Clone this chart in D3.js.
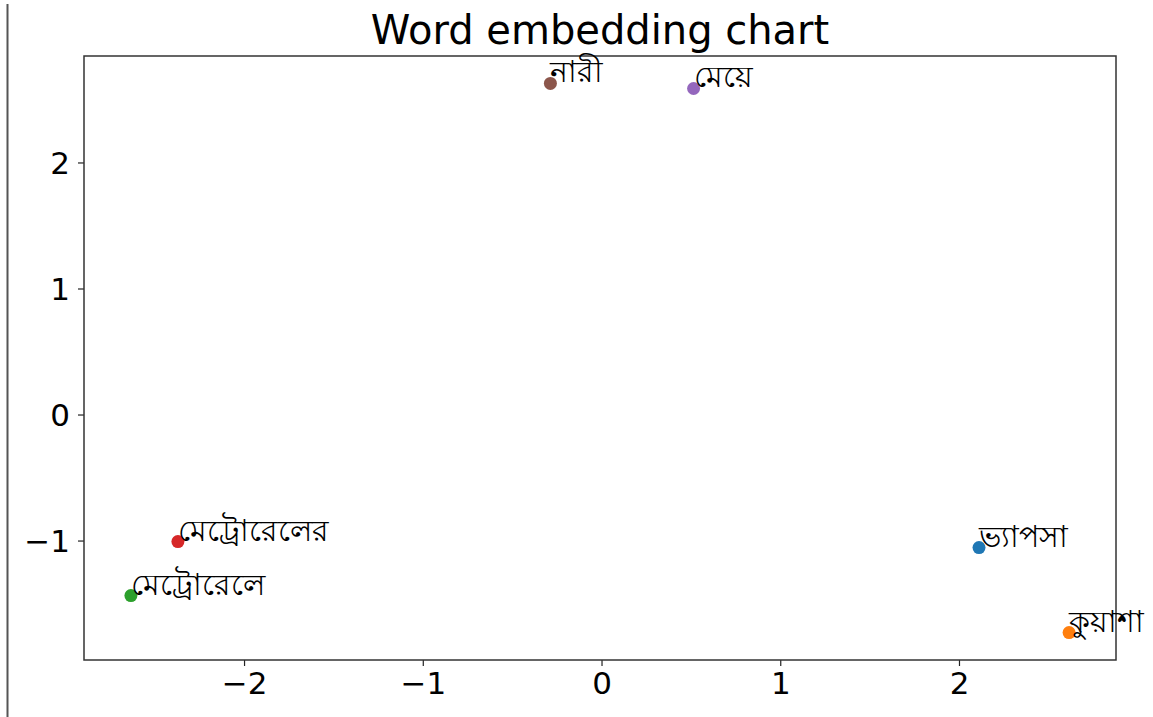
<!DOCTYPE html>
<html>
<head>
<meta charset="utf-8">
<script src="https://cdn.jsdelivr.net/npm/d3@7"></script>
<style>
  html, body { margin: 0; padding: 0; background: #fff; }
  svg { display: block; }
  text { font-family: "DejaVu Sans", sans-serif; fill: #000; }
</style>
</head>
<body>
<svg id="chart" width="1153" height="717"></svg>
<script>
const words = ["ভ্যাপসা", "কুয়াশা", "মেট্রোরেলে", "মেট্রোরেলের", "মেয়ে", "নারী"];
const xValues = [2.112, 2.616, -2.633, -2.370, 0.515, -0.286];
const yValues = [-1.056, -1.730, -1.437, -1.008, 2.587, 2.627];
const colors = ["#1f77b4", "#ff7f0e", "#2ca02c", "#d62728", "#9467bd", "#8c564b"];
const xTicks = [-2, -1, 0, 1, 2];
const yTicks = [-1, 0, 1, 2];
const title = "Word embedding chart";

const svg = d3.select("#chart");
const W = 1153, H = 717;
const plot = { left: 84, right: 1116, top: 56, bottom: 660 };

svg.append("rect").attr("width", W).attr("height", H).attr("fill", "#fff");
// notebook cell border line on the left
svg.append("line").attr("x1", 7.5).attr("x2", 7.5).attr("y1", 4).attr("y2", H)
  .attr("stroke", "#555").attr("stroke-width", 2);

function padded(vals) {
  const [a, b] = d3.extent(vals);
  const m = (b - a) * 0.05;
  return [a - m, b + m];
}
const x = d3.scaleLinear().domain(padded(xValues)).range([plot.left, plot.right]);
const y = d3.scaleLinear().domain(padded(yValues)).range([plot.bottom, plot.top]);

const fmt = d => (d < 0 ? "\u2212" + Math.abs(d) : String(d));

const xAxis = svg.append("g").attr("transform", `translate(0,${plot.bottom})`)
  .call(d3.axisBottom(x).tickValues(xTicks).tickFormat(fmt).tickSize(6).tickPadding(6));
const yAxis = svg.append("g").attr("transform", `translate(${plot.left},0)`)
  .call(d3.axisLeft(y).tickValues(yTicks).tickFormat(fmt).tickSize(6).tickPadding(8));
[xAxis, yAxis].forEach(g => {
  g.select(".domain").remove();
  g.selectAll(".tick line").attr("stroke", "#222").attr("stroke-width", 1.2);
  g.selectAll(".tick text").attr("font-family", "DejaVu Sans").attr("font-size", 31).attr("fill", "#000");
});
xAxis.selectAll(".tick text").attr("dy", "0.72em");
yAxis.selectAll(".tick text").attr("dy", "0.36em");

svg.append("rect")
  .attr("x", plot.left).attr("y", plot.top)
  .attr("width", plot.right - plot.left).attr("height", plot.bottom - plot.top)
  .attr("fill", "none").attr("stroke", "#333").attr("stroke-width", 1.5);

const data = words.map((w, i) => ({ w, x: xValues[i], y: yValues[i], c: colors[i] }));

svg.append("g").selectAll("circle").data(data).join("circle")
  .attr("cx", d => x(d.x)).attr("cy", d => y(d.y)).attr("r", 6.5)
  .attr("fill", d => d.c);

svg.append("g").selectAll("text").data(data).join("text")
  .attr("x", d => x(d.x)).attr("y", d => y(d.y) - 1)
  .attr("font-family", "'Lohit Bengali', 'Noto Sans Bengali', FreeSans, 'Noto Sans', sans-serif")
  .attr("font-size", 30)
  .text(d => d.w);

svg.append("text").attr("x", (plot.left + plot.right) / 2).attr("y", 44)
  .attr("text-anchor", "middle").attr("font-size", 40)
  .text(title);
</script>
</body>
</html>
